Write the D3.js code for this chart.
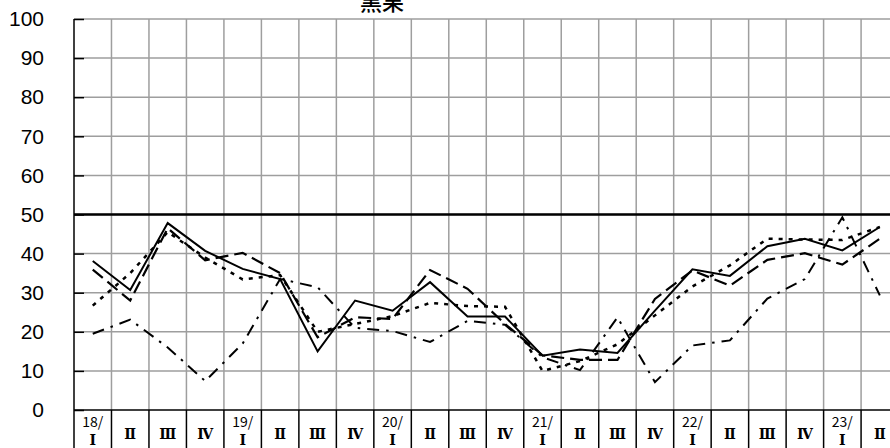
<!DOCTYPE html>
<html>
<head>
<meta charset="utf-8">
<script src="https://cdn.jsdelivr.net/npm/d3@7"></script>
<style>
  body { margin: 0; background: #fff; overflow: hidden; }
  svg { display: block; }
</style>
</head>
<body>
<div id="chart"></div>
<script>
const title = "黒果";

const categories = ["18/Ⅰ", "Ⅱ", "Ⅲ", "Ⅳ", "19/Ⅰ", "Ⅱ", "Ⅲ", "Ⅳ", "20/Ⅰ", "Ⅱ", "Ⅲ", "Ⅳ",
  "21/Ⅰ", "Ⅱ", "Ⅲ", "Ⅳ", "22/Ⅰ", "Ⅱ", "Ⅲ", "Ⅳ", "23/Ⅰ", "Ⅱ"];

const yTicks = [0, 10, 20, 30, 40, 50, 60, 70, 80, 90, 100];
const refLine = 50;

const solid    = [38.1, 30.7, 47.8, 40.7, 36.1, 33.5, 15.0, 28.0, 25.4, 32.7, 23.9, 23.9, 13.9, 15.5, 14.6, 25.4, 36.0, 34.3, 41.9, 43.8, 40.8, 46.8];
const longDash = [35.9, 28.0, 46.5, 38.3, 40.2, 35.0, 18.6, 23.7, 23.3, 35.8, 31.0, 22.0, 14.0, 12.8, 12.8, 28.4, 35.7, 31.8, 38.4, 40.1, 37.2, 43.8];
const dashDot  = [19.5, 23.1, 16.0, 7.4, 17.0, 33.5, 31.4, 21.0, 20.2, 17.4, 22.8, 21.8, 13.5, 10.2, 23.7, 7.1, 16.5, 17.8, 28.5, 33.5, 49.3, 29.3];
const dotted   = [26.7, 35.0, 45.5, 39.0, 33.4, 34.5, 20.0, 22.0, 24.0, 27.4, 26.6, 26.4, 10.0, 12.5, 16.8, 24.2, 31.6, 37.0, 43.8, 43.6, 43.5, 46.8];

const size = { width: 890, height: 448 };
const plot = { left: 74, top: 19, bottom: 410, colW: 37.48 };

const svg = d3.select("#chart")
  .append("svg")
  .attr("width", size.width)
  .attr("height", size.height);

const x = d3.scaleBand()
  .domain(d3.range(categories.length))
  .range([plot.left, plot.left + plot.colW * categories.length])
  .padding(0);

const y = d3.scaleLinear().domain([0, 100]).range([plot.bottom, plot.top]);

const right = x.range()[1];

// grid
const grid = svg.append("g").attr("stroke", "#9e9e9e").attr("stroke-width", 1.5);

grid.selectAll(".hgrid")
  .data(yTicks.filter(d => d > 0))
  .enter().append("line")
  .attr("x1", plot.left).attr("x2", right)
  .attr("y1", d => y(d)).attr("y2", d => y(d));

grid.selectAll(".vgrid")
  .data(d3.range(1, categories.length + 1))
  .enter().append("line")
  .attr("x1", d => plot.left + d * x.bandwidth()).attr("x2", d => plot.left + d * x.bandwidth())
  .attr("y1", y(100)).attr("y2", plot.bottom);

// y axis with inner ticks
const yAxis = d3.axisLeft(y).tickValues(yTicks).tickSize(-10).tickPadding(30);
const ya = svg.append("g")
  .attr("transform", "translate(" + plot.left + ",0)")
  .call(yAxis);
ya.select(".domain").remove();
ya.selectAll(".tick line").attr("stroke", "#000").attr("stroke-width", 1.5);
ya.selectAll(".tick text")
  .attr("font-family", "Liberation Sans, Arial, sans-serif")
  .attr("font-size", 21)
  .attr("fill", "#000");

svg.append("line")
  .attr("x1", plot.left).attr("x2", plot.left)
  .attr("y1", y(100)).attr("y2", size.height)
  .attr("stroke", "#000").attr("stroke-width", 1.5);

// category cells below the plot
svg.append("line")
  .attr("x1", plot.left).attr("x2", right)
  .attr("y1", plot.bottom).attr("y2", plot.bottom)
  .attr("stroke", "#000").attr("stroke-width", 1.5);

svg.selectAll(".cell")
  .data(d3.range(1, categories.length + 1))
  .enter().append("line")
  .attr("x1", d => plot.left + d * x.bandwidth()).attr("x2", d => plot.left + d * x.bandwidth())
  .attr("y1", plot.bottom).attr("y2", size.height)
  .attr("stroke", "#000").attr("stroke-width", 1.5);

const labels = svg.append("g")
  .attr("text-anchor", "middle")
  .attr("fill", "#000");

categories.forEach(function(c, i) {
  var cx = x(i) + x.bandwidth() / 2;
  var parts = c.split("/");
  var roman = parts.length > 1 ? parts[1] : c;
  if (parts.length > 1) {
    labels.append("text").attr("x", cx).attr("y", 427)
      .attr("font-family", "Noto Sans CJK JP, sans-serif").attr("font-size", 14)
      .text(parts[0] + "/");
  }
  labels.append("text").attr("x", cx).attr("y", parts.length > 1 ? 445 : 439)
    .attr("font-family", "DejaVu Serif, serif").attr("font-size", 14).attr("font-weight", "bold")
    .text(roman);
});

// reference line at 50
svg.append("line")
  .attr("x1", plot.left).attr("x2", right)
  .attr("y1", y(refLine)).attr("y2", y(refLine))
  .attr("stroke", "#000").attr("stroke-width", 2.5);

// series
const line = d3.line()
  .x((d, i) => x(i) + x.bandwidth() / 2)
  .y(d => y(d));

const series = [
  { values: dotted, dash: "4,6", width: 2.5 },
  { values: dashDot, dash: "12,7,2.5,7", width: 2 },
  { values: longDash, dash: "13,6", width: 2.2 },
  { values: solid, dash: null, width: 2 }
];

svg.selectAll(".series")
  .data(series)
  .enter().append("path")
  .attr("fill", "none")
  .attr("stroke", "#000")
  .attr("stroke-width", d => d.width)
  .attr("stroke-dasharray", d => d.dash)
  .attr("d", d => line(d.values));

svg.append("text")
  .attr("x", 382)
  .attr("y", 10)
  .attr("text-anchor", "middle")
  .attr("font-family", "Noto Sans CJK JP, sans-serif")
  .attr("font-size", 22)
  .attr("font-weight", 500)
  .attr("fill", "#000")
  .text(title);
</script>
</body>
</html>
